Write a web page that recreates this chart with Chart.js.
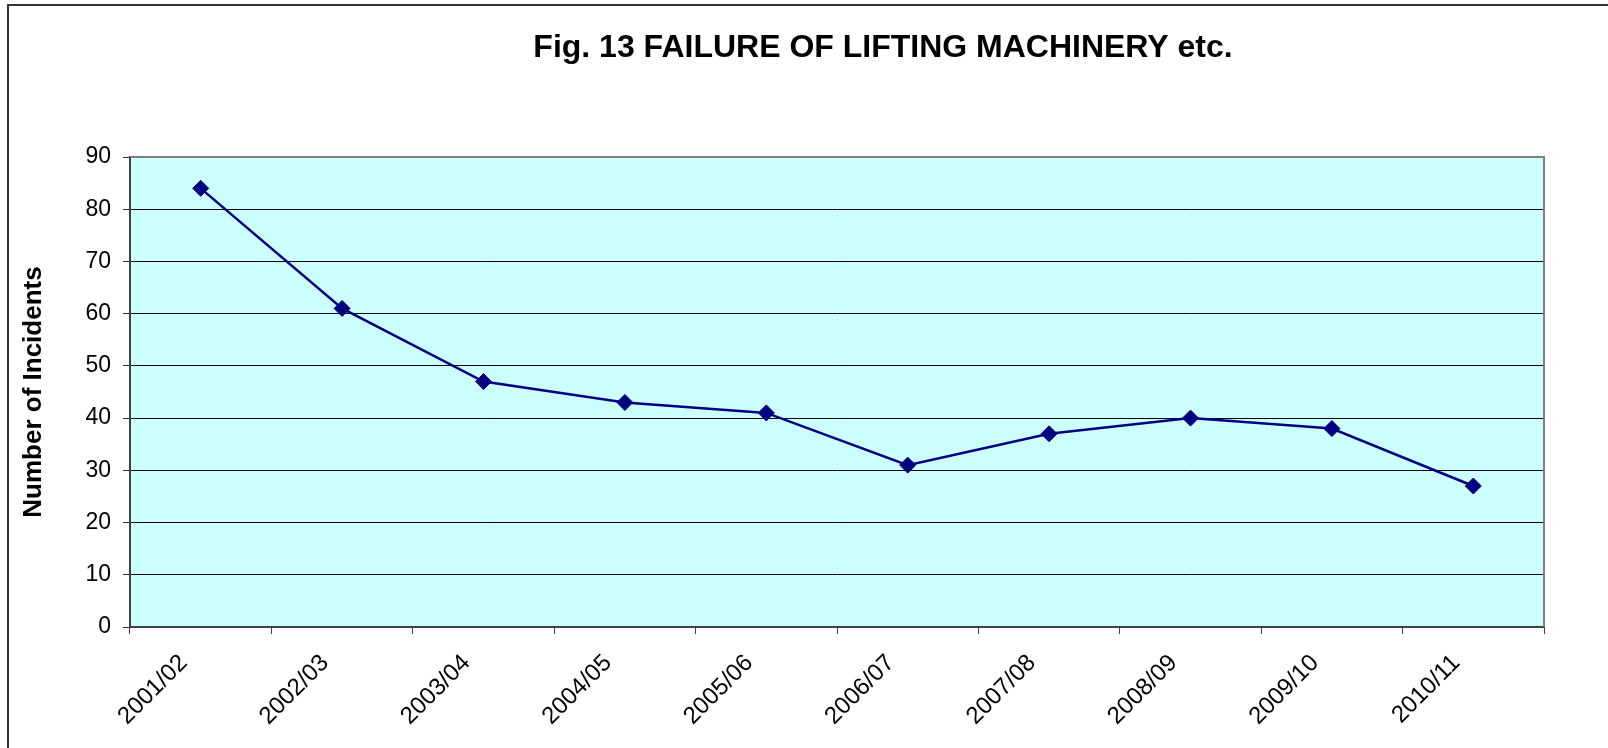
<!DOCTYPE html>
<html>
<head>
<meta charset="utf-8">
<script src="https://cdn.jsdelivr.net/npm/chart.js@4/dist/chart.umd.min.js"></script>
<style>
  html, body { margin: 0; padding: 0; background: #fff; }
  #wrap { width: 1608px; height: 748px; }
</style>
</head>
<body>
<div id="wrap"><canvas id="myChart" width="1608" height="748"></canvas></div>
<script>
'use strict';

var chartTitle = 'Fig. 13 FAILURE OF LIFTING MACHINERY etc.';
var yTitle = 'Number of Incidents';
var years = ['2001/02', '2002/03', '2003/04', '2004/05', '2005/06', '2006/07', '2007/08', '2008/09', '2009/10', '2010/11'];
var incidents = [84, 61, 47, 43, 41, 31, 37, 40, 38, 27];
var yTicks = [0, 10, 20, 30, 40, 50, 60, 70, 80, 90];

var fontFamily = '"Liberation Sans", Arial, sans-serif';

// frame, plot background, plot border and title
var decor = {
  id: 'decor',
  beforeDraw: function (chart) {
    var c = chart.ctx, a = chart.chartArea;
    c.save();
    c.fillStyle = '#CCFFFF';
    c.fillRect(a.left, a.top, a.right - a.left, a.bottom - a.top);
    c.strokeStyle = '#333';
    c.lineWidth = 2;
    c.strokeRect(8, 5, 1700, 1000);
    c.restore();
  },
  beforeDatasetsDraw: function (chart) {
    var c = chart.ctx, a = chart.chartArea;
    c.save();
    c.strokeStyle = '#808080';
    c.lineWidth = 2;
    c.beginPath();
    c.moveTo(a.left, a.top);
    c.lineTo(a.right, a.top);
    c.lineTo(a.right, a.bottom);
    c.stroke();
    c.restore();
  },
  afterDraw: function (chart) {
    var c = chart.ctx;
    c.save();
    c.fillStyle = '#000';
    c.font = 'bold 32px ' + fontFamily;
    c.textAlign = 'center';
    c.textBaseline = 'middle';
    c.fillText(chartTitle, 883, 48);
    c.restore();
  }
};

var ctx = document.getElementById('myChart');
var lineChart = new Chart(ctx, {
  type: 'line',
  data: {
    labels: years,
    datasets: [{
      label: yTitle,
      data: incidents,
      borderColor: '#000080',
      backgroundColor: '#000080',
      borderWidth: 2.5,
      pointStyle: 'rectRot',
      pointRadius: 8,
      pointBorderWidth: 1,
      tension: 0
    }]
  },
  options: {
    responsive: false,
    animation: false,
    layout: { padding: { top: 157, left: 10, right: 64, bottom: 0 } },
    plugins: {
      legend: { display: false },
      title: { display: false },
      tooltip: { enabled: false }
    },
    scales: {
      x: {
        offset: true,
        grid: { offset: true, drawOnChartArea: false, drawTicks: true, tickLength: 7, color: '#404040' },
        border: { color: '#404040', width: 2 },
        ticks: {
          color: '#000',
          minRotation: 45,
          maxRotation: 45,
          padding: 15,
          labelOffset: -17,
          font: { family: fontFamily, size: 24 }
        },
        afterFit: function (scale) { scale.height = 121; }
      },
      y: {
        min: 0,
        max: 90,
        afterBuildTicks: function (scale) {
          scale.ticks = yTicks.map(function (v) { return { value: v }; });
        },
        grid: {
          tickLength: 7,
          color: function (c) {
            if (c.tick.value === 0) return 'rgba(0,0,0,0)';
            if (c.tick.value === 90) return '#808080';
            return '#000';
          },
          tickColor: '#333'
        },
        border: { color: '#404040', width: 2 },
        title: {
          display: true,
          text: yTitle,
          color: '#000',
          padding: { top: 8, bottom: 0 },
          font: { family: fontFamily, size: 26, weight: 'bold' }
        },
        ticks: {
          color: '#000',
          padding: 12,
          font: { family: fontFamily, size: 23 }
        },
        afterFit: function (scale) { scale.width = 120; }
      }
    }
  },
  plugins: [decor]
});
</script>
</body>
</html>
